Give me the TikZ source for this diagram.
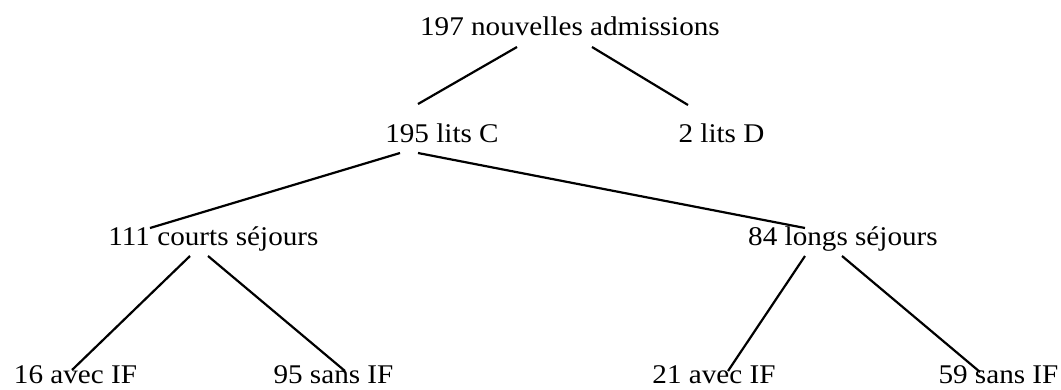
\documentclass[tikz,border=0pt]{standalone}
\usepackage{fontspec}
\setmainfont[FakeStretch=1.08]{Liberation Serif}
\begin{document}
\begin{tikzpicture}[x=1pt,y=-1pt,
  lbl/.style={anchor=base,inner sep=0pt,text depth=0pt,font=\fontsize{27}{30}\selectfont},
  edge/.style={line width=2.2pt,black}]
\path[use as bounding box] (0,0) rectangle (1061,389);
\node[lbl] (top) at (570,35) {197 nouvelles admissions};
\node[lbl] (C) at (442,142) {195 lits C};
\node[lbl] (D) at (721.5,142) {2 lits D};
\node[lbl] (cs) at (213.5,245) {111 courts séjours};
\node[lbl] (ls) at (843,245) {84 longs séjours};
\node[lbl] (a16) at (75.5,383) {16 avec IF};
\node[lbl] (s95) at (333.5,383) {95 sans IF};
\node[lbl] (a21) at (714,383) {21 avec IF};
\node[lbl] (s59) at (998.5,383) {59 sans IF};
\draw[edge] ([shift={(-53,12)}]top.base) -- ([shift={(-24,-38)}]C.base);
\draw[edge] ([shift={(22,12)}]top.base) -- ([shift={(-33.5,-37)}]D.base);
\draw[edge] ([shift={(-42,11)}]C.base) -- ([shift={(-63.5,-17)}]cs.base);
\draw[edge] ([shift={(-24,11)}]C.base) -- ([shift={(-38,-17)}]ls.base);
\draw[edge] ([shift={(-23.5,11)}]cs.base) -- ([shift={(-3.5,-13)}]a16.base);
\draw[edge] ([shift={(-5.5,11)}]cs.base) -- ([shift={(11.5,-12)}]s95.base);
\draw[edge] ([shift={(-38,11)}]ls.base) -- ([shift={(14,-12)}]a21.base);
\draw[edge] ([shift={(-1,11)}]ls.base) -- ([shift={(-18.5,-11)}]s59.base);
\end{tikzpicture}
\end{document}
